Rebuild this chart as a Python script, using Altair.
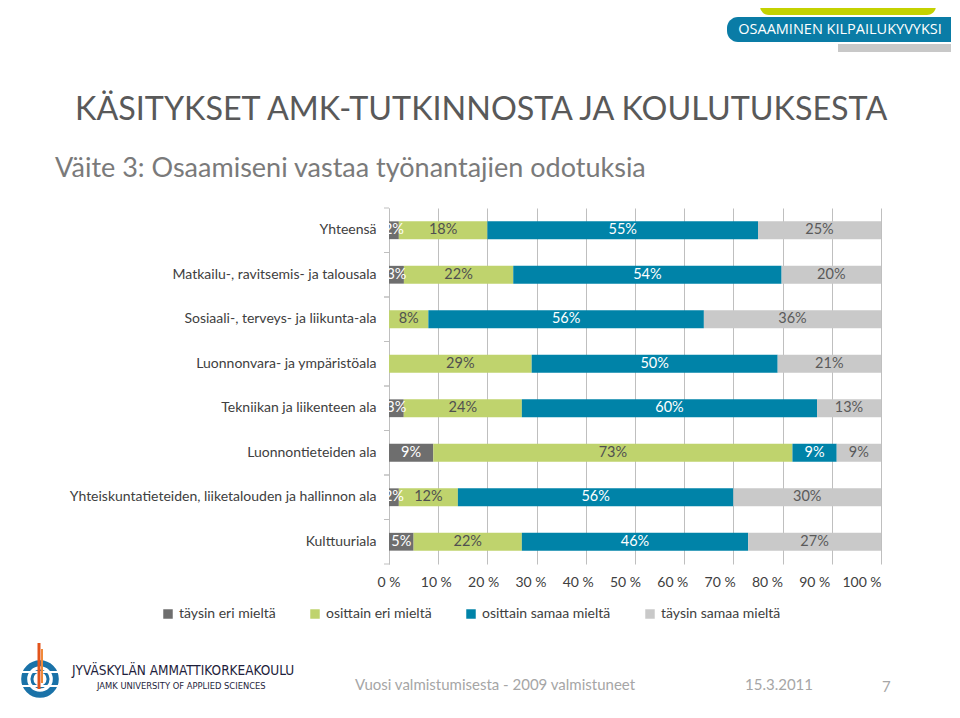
import altair as alt
import pandas as pd

FONT = "Lato"

categories = [
    "Yhteensä",
    "Matkailu-, ravitsemis- ja talousala",
    "Sosiaali-, terveys- ja liikunta-ala",
    "Luonnonvara- ja ympäristöala",
    "Tekniikan ja liikenteen ala",
    "Luonnontieteiden ala",
    "Yhteiskuntatieteiden, liiketalouden ja hallinnon ala",
    "Kulttuuriala",
]
series = ["täysin eri mieltä", "osittain eri mieltä", "osittain samaa mieltä", "täysin samaa mieltä"]
taysin_eri = [2, 3, 0, 0, 3, 9, 2, 5]
osittain_eri = [18, 22, 8, 29, 24, 73, 12, 22]
osittain_samaa = [55, 54, 56, 50, 60, 9, 56, 46]
taysin_samaa = [25, 20, 36, 21, 13, 9, 30, 27]
x_ticks = [0, 0.1, 0.2, 0.3, 0.4, 0.5, 0.6, 0.7, 0.8, 0.9, 1.0]

bar_colors = ["#6e6e6e", "#bfd36d", "#0083a8", "#c9c9c9"]

rows = []
for i, c in enumerate(categories):
    for j, vals in enumerate([taysin_eri, osittain_eri, osittain_samaa, taysin_samaa]):
        rows.append({"cat": c, "series": series[j], "order": j, "value": vals[i]})
df = pd.DataFrame(rows)

W, H = 492, 356

yenc = alt.Y(
    "cat:N", sort=categories,
    scale=alt.Scale(paddingInner=0.6, paddingOuter=0.3),
    axis=alt.Axis(title=None, ticks=False, domain=True, domainColor="#bfbfbf",
                  labelFont=FONT, labelFontSize=14, labelColor="#404040",
                  labelPadding=13, labelLimit=400),
)

bars = alt.Chart(df).mark_bar().encode(
    x=alt.X("value:Q", stack="normalize",
            scale=alt.Scale(domain=[0, 1], nice=False),
            axis=alt.Axis(title=None, values=x_ticks, labels=False,
                          grid=True, gridColor="#bfbfbf", gridWidth=1,
                          ticks=False, domain=False)),
    y=yenc,
    color=alt.Color("series:N", scale=alt.Scale(domain=series, range=bar_colors),
                    legend=alt.Legend(title=None, orient="none", legendX=-228, legendY=399,
                                      direction="horizontal", symbolType="square",
                                      symbolSize=90, symbolStrokeWidth=0,
                                      labelFont=FONT, labelFontSize=14,
                                      labelColor="#404040", columnPadding=32,
                                      labelOffset=4, padding=0)),
    order=alt.Order("order:Q"),
)

# x tick labels (drawn as a text layer so they can drift slightly left as in the original)
xlab = alt.Chart(pd.DataFrame({"t": x_ticks})).transform_calculate(
    pos="datum.t * (1 - 19 / 492)",
    lbl="round(datum.t * 100) + ' %'",
).mark_text(font=FONT, fontSize=14, color="#404040", baseline="middle").encode(
    x=alt.X("pos:Q"), y=alt.value(375), text="lbl:N")

labels = alt.Chart(df).transform_filter("datum.value > 0").transform_stack(
    stack="value", groupby=["cat"], as_=["x0", "x1"],
    sort=[alt.SortField("order")], offset="normalize",
).transform_calculate(
    mid="(datum.x0 + datum.x1) / 2",
    lbl="datum.value + '%'",
    tc="datum.order == 1 ? '#505050' : (datum.order == 3 ? '#5a5a5a' : '#ffffff')",
).mark_text(clip=True, font=FONT, fontSize=14.5).encode(
    x=alt.X("mid:Q"),
    y=alt.Y("cat:N", sort=categories),
    text="lbl:N",
    color=alt.Color("tc:N", scale=None),
)

catdf = pd.DataFrame({"cat": categories})
ticks_top = alt.Chart(catdf).mark_rule(color="#bfbfbf", yOffset=-22.25).encode(
    y=alt.Y("cat:N", sort=categories), x=alt.value(-5), x2=alt.value(0))
ticks_bot = alt.Chart(catdf).mark_rule(color="#bfbfbf", yOffset=22.25).encode(
    y=alt.Y("cat:N", sort=categories), x=alt.value(-5), x2=alt.value(0))

one = pd.DataFrame({"k": [0]})


def txt(s, x, y, size, color, font=FONT, align="left", baseline="alphabetic", weight="normal"):
    return alt.Chart(one).mark_text(font=font, fontSize=size, color=color, align=align,
                                    baseline=baseline, fontWeight=weight).encode(
        x=alt.value(x), y=alt.value(y), text=alt.value(s))


def rect(x1, x2, y1, y2, color, r=0):
    return alt.Chart(one).mark_rect(color=color, cornerRadius=r).encode(
        x=alt.value(x1), x2=alt.value(x2), y=alt.value(y1), y2=alt.value(y2))


def rule(x1, y1, x2, y2, color, w):
    return alt.Chart(one).mark_rule(color=color, strokeWidth=w).encode(
        x=alt.value(x1), x2=alt.value(x2), y=alt.value(y1), y2=alt.value(y2))


def ring(x, y, size, color, w):
    return alt.Chart(one).mark_point(shape="circle", filled=False, color=color,
                                     strokeWidth=w, size=size, opacity=1).encode(
        x=alt.value(x), y=alt.value(y))


LOGO_FONT = "DejaVu Sans Condensed, Liberation Sans"
LX, LY = -349, 471  # logo centre, relative to the plot origin

decor = [
    rect(371, 547, -230, -193, "#c4d200", 9),
    rect(338, 600, -191, -166, "#0a7ca6", 11),
    rect(449, 600, -164, -156, "#c8c8c8", 0),
    txt("OSAAMINEN KILPAILUKYVYKSI", 451, -178, 14.5, "#ffffff", font="Open Sans",
        align="center", baseline="middle"),
    txt("KÄSITYKSET AMK-TUTKINNOSTA JA KOULUTUKSESTA", -314, -88, 32.3, "#595959"),
    txt("Väite 3: Osaamiseni vastaa työnantajien odotuksia", -334, -31, 27, "#7a7a7a"),
    txt("Vuosi valmistumisesta - 2009 valmistuneet", -34, 482, 15, "#a6a6a6"),
    txt("15.3.2011", 356, 482, 15, "#a6a6a6"),
    txt("7", 493, 484, 15, "#a6a6a6"),
    txt("JYVÄSKYLÄN AMMATTIKORKEAKOULU", -317, 467, 13.5, "#1e1e3c", font=LOGO_FONT),
    txt("JAMK UNIVERSITY OF APPLIED SCIENCES", -292, 481, 9.3, "#1e1e3c", font=LOGO_FONT),
    # logo: blue globe with an orange flame
    ring(LX, LY, 1000, "#1a72a8", 6),
    ring(LX, LY, 260, "#1a72a8", 3),
    rule(LX - 24, LY - 7, LX + 24, LY - 7, "#ffffff", 2),
    rule(LX - 24, LY + 7, LX + 24, LY + 7, "#ffffff", 2),
    rule(LX - 1, LY - 36, LX - 1, LY + 10, "#e2541c", 3),
    rule(LX + 2, LY - 30, LX + 2, LY + 4, "#f08a3a", 2),
]

chart = alt.layer(bars, labels, xlab, ticks_top, ticks_bot, *decor).resolve_scale(
    color="independent"
).properties(
    width=W, height=H,
    padding={"left": 381, "top": 200, "right": 70, "bottom": 142},
    autosize=alt.AutoSizeParams(type="none"),
    background="#ffffff",
).configure_view(stroke=None)

chart.save("out.html", embed_options={"renderer": "svg", "actions": False})
